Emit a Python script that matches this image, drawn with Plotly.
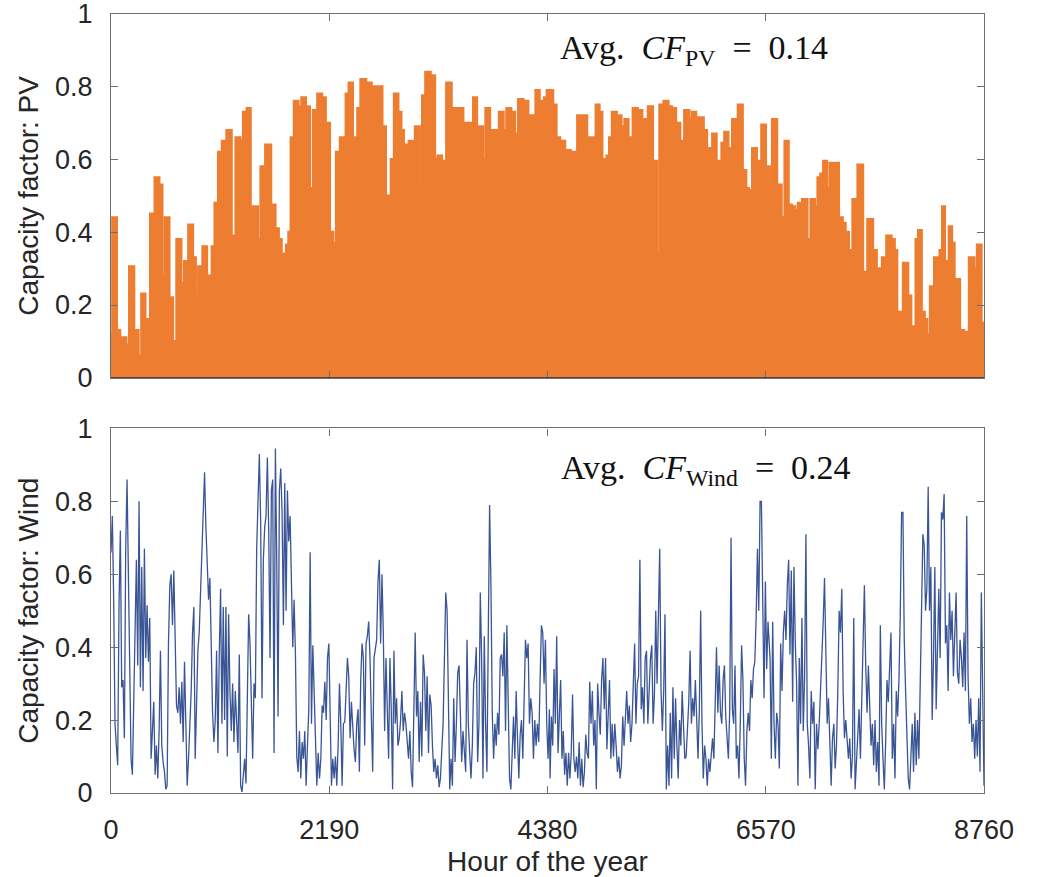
import numpy as np
import plotly.graph_objects as go

# ---------------- DATA ----------------
x_tick_vals = [0, 2190, 4380, 6570, 8760]
y_tick_vals = [0, 0.2, 0.4, 0.6, 0.8, 1]
y_tick_text = ["0", "0.2", "0.4", "0.6", "0.8", "1"]

pv_hours = [0, 33, 77, 100, 134, 167, 204, 254, 291, 324, 358, 374, 418, 465, 498, 525, 562, 602, 635,
            685, 719, 756, 802, 836, 859, 899, 943, 976, 1003, 1026, 1060, 1096, 1137, 1187, 1227, 1280,
            1310, 1347, 1384, 1411, 1458, 1484, 1524, 1578, 1628, 1665, 1695, 1722, 1748, 1772, 1795,
            1819, 1859, 1895, 1932, 1972, 2012, 2049, 2099, 2129, 2173,
            2213, 2240, 2283, 2317, 2347, 2370, 2407, 2440, 2464, 2487, 2527, 2587, 2637, 2664, 2698,
            2741, 2768, 2798, 2825, 2861, 2898, 2922, 2948, 2975, 3008, 3032, 3075, 3115, 3136, 3179,
            3229, 3266, 3296, 3339, 3396, 3433, 3470, 3513, 3550, 3577, 3600, 3620, 3654, 3684, 3717,
            3741, 3781, 3818, 3834, 3871, 3921, 3951, 3991, 4035, 4065, 4112, 4158, 4209, 4245, 4282,
            4312, 4339, 4359, 4393,
            4413, 4453, 4480, 4527, 4580, 4637, 4727, 4821, 4854, 4881, 4915, 4938, 4965, 4988, 5015,
            5045, 5098, 5139, 5172, 5205, 5222, 5256, 5309, 5346, 5373, 5409, 5460, 5490, 5523, 5573,
            5607, 5643, 5690, 5727, 5784, 5817, 5851, 5884, 5924, 5964, 5991, 6018, 6055, 6091, 6118,
            6141, 6175, 6208, 6225, 6248, 6275, 6312, 6359, 6382, 6412, 6462, 6492, 6516, 6543, 6593,
            6620, 6654, 6707, 6744, 6781, 6811, 6844, 6878, 6914, 6964, 7005, 7041, 7078, 7108, 7135,
            7165, 7195, 7232, 7279, 7322, 7356, 7379, 7422, 7466, 7523, 7563, 7623, 7663, 7697, 7723,
            7757, 7810, 7847, 7874, 7897, 7924, 7977, 8014, 8038, 8064, 8091, 8115, 8148, 8175, 8198,
            8245, 8282, 8305, 8332, 8355, 8372, 8399, 8422, 8449, 8472, 8499, 8532, 8579, 8646, 8673,
            8713, 8750, 8760]
pv_values = [0.12, 0.44, 0.13, 0.06, 0.11, 0.09, 0.305, 0.13, 0.06, 0.23, 0.16, 0.12, 0.45, 0.55, 0.53,
             0.28, 0.44, 0.22, 0.10, 0.38, 0.26, 0.32, 0.42, 0.33, 0.22, 0.305, 0.36, 0.27, 0.28, 0.36,
             0.48, 0.62, 0.65, 0.68, 0.39, 0.66, 0.65, 0.73, 0.74, 0.47, 0.47, 0.38, 0.58, 0.64, 0.475,
             0.41, 0.38, 0.34, 0.20, 0.365, 0.40, 0.66, 0.76, 0.745, 0.77, 0.745, 0.52, 0.735, 0.78,
             0.77, 0.70,
             0.40, 0.37, 0.62, 0.66, 0.58, 0.78, 0.81, 0.61, 0.66, 0.74, 0.82, 0.81, 0.80, 0.79, 0.80,
             0.69, 0.50, 0.47, 0.60, 0.78, 0.73, 0.68, 0.64, 0.64, 0.65, 0.65, 0.69, 0.53, 0.775, 0.84,
             0.83, 0.60, 0.61, 0.595, 0.81, 0.74, 0.74, 0.74, 0.70, 0.70, 0.69, 0.70, 0.77, 0.69, 0.69,
             0.60, 0.74, 0.68, 0.64, 0.68, 0.73, 0.68, 0.74, 0.73, 0.67, 0.765, 0.76, 0.72, 0.72, 0.79,
             0.76, 0.72, 0.77, 0.79,
             0.79, 0.75, 0.66, 0.65, 0.625, 0.62, 0.72, 0.66, 0.66, 0.75, 0.73, 0.60, 0.59, 0.61, 0.66,
             0.73, 0.72, 0.69, 0.71, 0.59, 0.66, 0.74, 0.735, 0.71, 0.71, 0.745, 0.595, 0.34, 0.75, 0.76,
             0.745, 0.74, 0.70, 0.65, 0.735, 0.71, 0.73, 0.715, 0.715, 0.68, 0.57, 0.63, 0.67, 0.595,
             0.595, 0.645, 0.675, 0.595, 0.63, 0.71, 0.71, 0.75, 0.57, 0.52, 0.515, 0.63, 0.595, 0.59,
             0.695, 0.58,
             0.51, 0.71, 0.53, 0.44, 0.65, 0.475, 0.47, 0.46, 0.48, 0.49, 0.38, 0.49, 0.47, 0.55, 0.56,
             0.595, 0.52, 0.59, 0.59, 0.44, 0.425, 0.40, 0.35, 0.49, 0.585, 0.29, 0.435, 0.35, 0.18, 0.30,
             0.33, 0.39, 0.38, 0.35, 0.13, 0.18, 0.315, 0.225, 0.125, 0.14, 0.38, 0.405, 0.18, 0.16, 0.12,
             0.25, 0.33, 0.255, 0.35, 0.47, 0.32, 0.25, 0.415, 0.37, 0.27, 0.27, 0.13, 0.125, 0.33, 0.30,
             0.365, 0.15, 0.15]

wind_seg_bounds = [(0, 2186), (2199, 4399), (4406, 6606), (6613, 8760)]
wind_seg1 = [0.66, 0.76, 0.53, 0.19, 0.13, 0.076, 0.515, 0.72, 0.29, 0.31, 0.15, 0.67, 0.86, 0.62, 0.37,
             0.094, 0.05, 0.27, 0.50, 0.64, 0.35, 0.80, 0.29, 0.62, 0.28, 0.67, 0.37, 0.515, 0.36, 0.48,
             0.094, 0.20, 0.25, 0.05, 0.13, 0.04, 0.17, 0.39, 0.13, 0.085, 0.058, 0.01, 0.02, 0.41, 0.57,
             0.60, 0.46, 0.61, 0.44, 0.24, 0.22, 0.29, 0.19, 0.305, 0.14, 0.36, 0.19, 0.02, 0.094, 0.19,
             0.28, 0.44, 0.51, 0.094, 0.26, 0.39, 0.44, 0.56, 0.64, 0.80, 0.88, 0.73, 0.64, 0.53, 0.59,
             0.37, 0.22, 0.14, 0.20, 0.39, 0.11, 0.38, 0.56, 0.19, 0.51, 0.20, 0.51, 0.10, 0.49, 0.28,
             0.17, 0.30, 0.14, 0.28, 0.20, 0.11, 0.38, 0.02, 0.003, 0.04, 0.094, 0.026, 0.22, 0.49, 0.41,
             0.23, 0.094, 0.30, 0.26, 0.67, 0.79, 0.93, 0.74, 0.26, 0.64, 0.73, 0.76, 0.92, 0.72, 0.37,
             0.83, 0.86, 0.11, 0.945, 0.64, 0.21, 0.83, 0.89, 0.77, 0.46, 0.85, 0.50, 0.83, 0.69, 0.76,
             0.53, 0.40, 0.53, 0.38, 0.10, 0.058, 0.17, 0.04, 0.14, 0.094, 0.17, 0.02, 0.13, 0.23, 0.66,
             0.19, 0.405, 0.28, 0.094, 0.02, 0.11, 0.04, 0.094, 0.24, 0.22, 0.305, 0.20, 0.37, 0.41]
wind_seg2 = [0.19, 0.02, 0.094, 0.04, 0.10, 0.02, 0.13, 0.30, 0.19, 0.02, 0.19, 0.195, 0.28, 0.37, 0.32,
             0.15, 0.25, 0.16, 0.12, 0.085, 0.19, 0.23, 0.058, 0.31, 0.41, 0.37, 0.13, 0.41, 0.43, 0.47,
             0.37, 0.21, 0.058, 0.37, 0.405, 0.42, 0.58, 0.64, 0.41, 0.60, 0.44, 0.17, 0.37, 0.195, 0.094,
             0.37, 0.23, 0.01, 0.39, 0.19, 0.26, 0.13, 0.15, 0.20, 0.28, 0.17, 0.22, 0.19, 0.13, 0.094,
             0.17, 0.058, 0.016, 0.31, 0.44, 0.21, 0.28, 0.085, 0.25, 0.10, 0.38, 0.33, 0.17, 0.32, 0.11,
             0.27, 0.24, 0.13, 0.058, 0.094, 0.04, 0.076, 0.016, 0.04, 0.13, 0.19, 0.37, 0.55, 0.50, 0.26,
             0.01, 0.094, 0.02, 0.26, 0.085, 0.19, 0.33, 0.35, 0.19, 0.085, 0.17, 0.094, 0.058, 0.42, 0.19,
             0.11, 0.04, 0.13, 0.30, 0.33, 0.40, 0.085, 0.19, 0.55, 0.37, 0.04, 0.43, 0.19, 0.058, 0.43,
             0.79, 0.57, 0.22, 0.094, 0.19, 0.13, 0.22, 0.16, 0.37, 0.38, 0.32, 0.44, 0.17, 0.46, 0.26,
             0.04, 0.01, 0.13, 0.21, 0.094, 0.28, 0.15, 0.04, 0.16, 0.20, 0.094, 0.31, 0.42, 0.37, 0.41,
             0.19, 0.26, 0.22, 0.094, 0.20, 0.13, 0.19, 0.14, 0.31, 0.46, 0.44, 0.30, 0.42, 0.19, 0.094,
             0.23]
wind_seg3 = [0.04, 0.21, 0.13, 0.34, 0.19, 0.43, 0.11, 0.20, 0.31, 0.094, 0.17, 0.05, 0.11, 0.02, 0.11,
             0.04, 0.11, 0.27, 0.094, 0.058, 0.10, 0.04, 0.14, 0.02, 0.094, 0.016, 0.058, 0.16, 0.11,
             0.094, 0.305, 0.19, 0.28, 0.13, 0.20, 0.01, 0.30, 0.22, 0.16, 0.31, 0.37, 0.23, 0.37, 0.12,
             0.22, 0.31, 0.094, 0.19, 0.10, 0.19, 0.13, 0.058, 0.10, 0.04, 0.076, 0.21, 0.13, 0.23, 0.28,
             0.19, 0.24, 0.14, 0.19, 0.30, 0.41, 0.19, 0.30, 0.32, 0.64, 0.23, 0.29, 0.19, 0.37, 0.39,
             0.19, 0.28, 0.37, 0.405, 0.19, 0.27, 0.50, 0.30, 0.55, 0.67, 0.28, 0.17, 0.28, 0.49, 0.01,
             0.13, 0.02, 0.22, 0.04, 0.29, 0.094, 0.26, 0.13, 0.04, 0.20, 0.13, 0.28, 0.19, 0.094, 0.10,
             0.17, 0.25, 0.39, 0.19, 0.26, 0.21, 0.31, 0.21, 0.094, 0.23, 0.50, 0.19, 0.04, 0.13, 0.094,
             0.02, 0.094, 0.058, 0.094, 0.15, 0.094, 0.28, 0.40, 0.22, 0.35, 0.22, 0.19, 0.31, 0.35, 0.21,
             0.13, 0.094, 0.23, 0.70, 0.23, 0.19, 0.35, 0.094, 0.13, 0.04, 0.19, 0.405, 0.31, 0.094, 0.02,
             0.17, 0.22, 0.17, 0.31, 0.26, 0.34, 0.36, 0.48, 0.67, 0.50, 0.80, 0.80, 0.57, 0.26, 0.58,
             0.34, 0.47, 0.37]
wind_seg4 = [0.37, 0.094, 0.47, 0.19, 0.094, 0.22, 0.19, 0.067, 0.41, 0.28, 0.44, 0.50, 0.42, 0.57, 0.64,
             0.38, 0.61, 0.25, 0.62, 0.41, 0.30, 0.02, 0.37, 0.19, 0.48, 0.17, 0.32, 0.71, 0.19, 0.13,
             0.04, 0.28, 0.19, 0.25, 0.01, 0.19, 0.12, 0.19, 0.28, 0.35, 0.47, 0.59, 0.37, 0.19, 0.26,
             0.13, 0.02, 0.15, 0.19, 0.067, 0.13, 0.28, 0.50, 0.44, 0.56, 0.28, 0.15, 0.20, 0.13, 0.094,
             0.15, 0.04, 0.10, 0.48, 0.01, 0.094, 0.17, 0.23, 0.094, 0.28, 0.41, 0.57, 0.35, 0.22, 0.35,
             0.20, 0.13, 0.19, 0.076, 0.20, 0.058, 0.14, 0.02, 0.46, 0.19, 0.094, 0.01, 0.14, 0.31, 0.25,
             0.33, 0.44, 0.094, 0.19, 0.04, 0.28, 0.21, 0.31, 0.49, 0.77, 0.77, 0.42, 0.28, 0.13, 0.04,
             0.01, 0.10, 0.19, 0.058, 0.22, 0.076, 0.20, 0.094, 0.37, 0.50, 0.71, 0.68, 0.50, 0.56, 0.84,
             0.50, 0.62, 0.20, 0.37, 0.62, 0.23, 0.37, 0.56, 0.37, 0.77, 0.75, 0.82, 0.41, 0.46, 0.28,
             0.55, 0.42, 0.50, 0.32, 0.41, 0.55, 0.33, 0.30, 0.42, 0.37, 0.29, 0.44, 0.28, 0.76, 0.32,
             0.19, 0.26, 0.14, 0.19, 0.094, 0.20, 0.10, 0.26, 0.058, 0.55, 0.33, 0.02]

avg_cf_pv = 0.14
avg_cf_wind = 0.24

# ---------------- BUILD ----------------
wind_hours, wind_values = [], []
for (a, b), seg in zip(wind_seg_bounds, [wind_seg1, wind_seg2, wind_seg3, wind_seg4]):
    wind_hours += list(np.linspace(a, b, len(seg)))
    wind_values += seg

ORANGE = "#ED7D31"
BLUE = "#3A5596"
AXC = "#6e6e6e"
SANS = "Liberation Sans, Arial, Helvetica, sans-serif"
TICKFONT = dict(family=SANS, size=27, color="#262626")
TITLEFONT = dict(family=SANS, size=28, color="#262626")

fig = go.Figure()
fig.add_trace(go.Scatter(x=pv_hours, y=pv_values, mode="lines", fill="tozeroy",
                         fillcolor=ORANGE, line=dict(color=ORANGE, width=3, shape="hvh"),
                         xaxis="x", yaxis="y", showlegend=False))
fig.add_trace(go.Scatter(x=wind_hours, y=wind_values, mode="lines",
                         line=dict(color=BLUE, width=1.3),
                         xaxis="x2", yaxis="y2", showlegend=False))

common_x = dict(range=[0, 8760], tickvals=x_tick_vals, ticks="inside", ticklen=7, tickcolor=AXC,
                showline=True, linecolor=AXC, linewidth=1.2, mirror="ticks", showgrid=False,
                zeroline=False, tickfont=TICKFONT, automargin=False, ticklabeloverflow="allow")
common_y = dict(range=[0, 1], tickvals=y_tick_vals, ticktext=y_tick_text, ticks="inside", ticklen=7,
                tickcolor=AXC, showline=True, linecolor=AXC, linewidth=1.2, mirror="ticks",
                showgrid=False, zeroline=False, tickfont=TICKFONT, ticklabelstandoff=12,
                automargin=False, ticklabeloverflow="allow")

fig.update_layout(
    width=1038, height=877,
    margin=dict(l=111, r=54, t=14, b=84),
    paper_bgcolor="white", plot_bgcolor="white",
    xaxis=dict(**common_x, domain=[0, 1], anchor="y", showticklabels=False),
    yaxis=dict(**common_y, domain=[0.533, 1.0], anchor="x",
               title=dict(text="Capacity factor: PV", font=TITLEFONT, standoff=8)),
    xaxis2=dict(**common_x, domain=[0, 1], anchor="y2", ticklabelstandoff=12,
                title=dict(text="Hour of the year", font=TITLEFONT, standoff=14)),
    yaxis2=dict(**common_y, domain=[0, 0.468], anchor="x2",
                title=dict(text="Capacity factor: Wind", font=TITLEFONT, standoff=8)),
)

# dark baseline of the area plot
fig.add_shape(type="line", xref="x", yref="y", x0=0, x1=8760, y0=0, y1=0,
              line=dict(color="#262626", width=1.5), layer="above")

ANNFONT = dict(family="Liberation Serif, DejaVu Serif, serif", size=34, color="#111111")
fig.add_annotation(x=5848, y=0.90, xref="x", yref="y", showarrow=False, font=ANNFONT,
                   text=f"Avg.&nbsp; <i>CF</i><sub>PV</sub>&nbsp; =&nbsp; {avg_cf_pv:.2f}")
fig.add_annotation(x=5968, y=0.885, xref="x2", yref="y2", showarrow=False, font=ANNFONT,
                   text=f"Avg.&nbsp; <i>CF</i><sub>Wind</sub>&nbsp; =&nbsp; {avg_cf_wind:.2f}")

fig.write_html("out.html", config={"displayModeBar": False},
               post_script="document.body.style.margin='0';")
